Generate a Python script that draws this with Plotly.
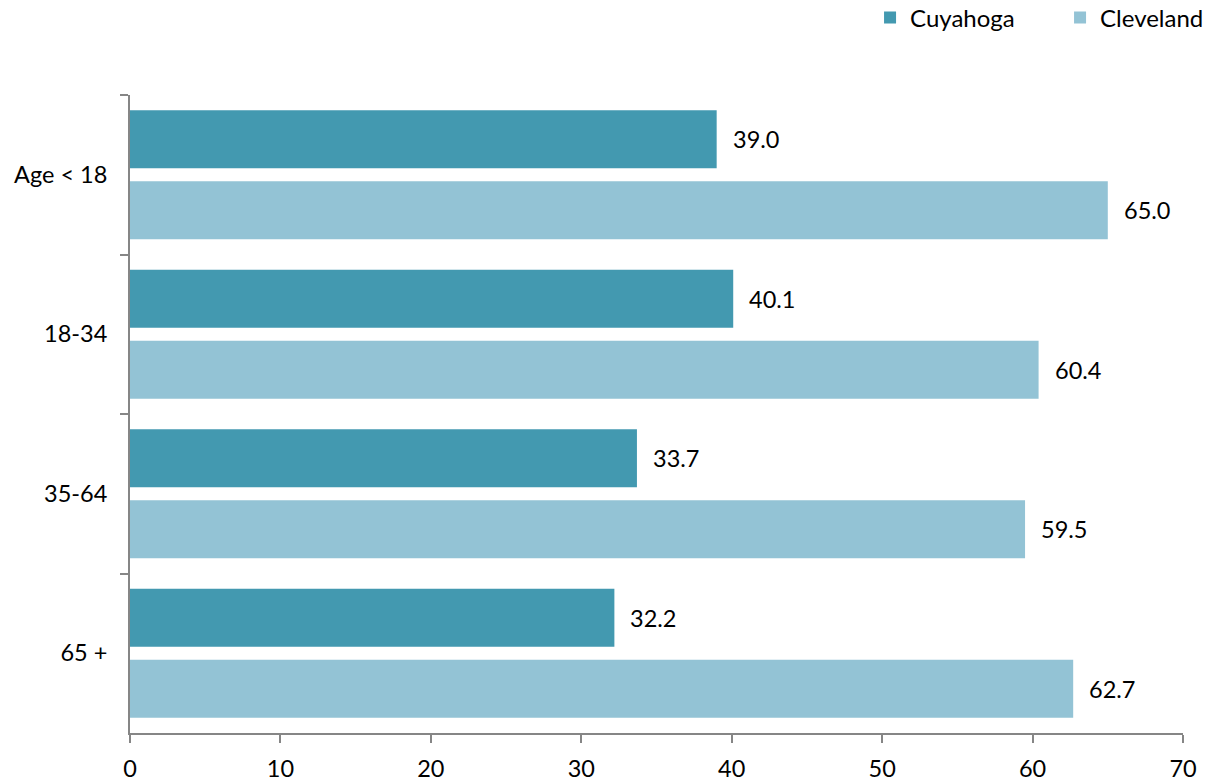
import plotly.graph_objects as go

# Age groups and the two geographies being compared
age_groups = ["Age < 18", "18-34", "35-64", "65 +"]
cuyahoga = [39.0, 40.1, 33.7, 32.2]
cleveland = [65.0, 60.4, 59.5, 62.7]
x_ticks = [0, 10, 20, 30, 40, 50, 60, 70]

COL_CUY = "#4399B0"
COL_CLE = "#93C3D5"
AXIS_COL = "#868686"
FONT = "Lato, 'Open Sans', sans-serif"
FS = 23.5

BARGAP = 0.11
GROUPGAP = 0.18

fig = go.Figure()
fig.add_trace(go.Bar(name="Cuyahoga", y=age_groups, x=cuyahoga, orientation="h",
                     marker=dict(color=COL_CUY, line=dict(width=0))))
fig.add_trace(go.Bar(name="Cleveland", y=age_groups, x=cleveland, orientation="h",
                     marker=dict(color=COL_CLE, line=dict(width=0))))

# value labels to the right of each bar, placed at the grouped-bar offsets
slot = (1 - BARGAP) / 2
annotations = []
for series, vals in ((0, cuyahoga), (1, cleveland)):
    off = -slot / 2 if series == 0 else slot / 2
    for i, v in enumerate(vals):
        annotations.append(dict(x=v, y=i + off, xref="x", yref="y", text=f"{v:.1f}",
                                showarrow=False, xanchor="left", xshift=14,
                                font=dict(family=FONT, size=FS, color="#000000")))

fig.update_layout(
    barmode="group", bargap=BARGAP, bargroupgap=GROUPGAP,
    width=1215, height=784,
    margin=dict(l=130, r=32, t=95, b=51, autoexpand=False),
    plot_bgcolor="white", paper_bgcolor="white",
    font=dict(family=FONT, size=FS, color="#000000"),
    showlegend=True,
    legend=dict(orientation="h", x=0.7028, xanchor="left", y=1.121, yanchor="middle",
                font=dict(family=FONT, size=24), traceorder="normal",
                entrywidth=145, entrywidthmode="pixels",
                bgcolor="rgba(0,0,0,0)"),
    annotations=annotations,
)
fig.update_xaxes(range=[0, 70], tickvals=x_ticks, showgrid=False, zeroline=False,
                 showline=True, linecolor=AXIS_COL, linewidth=2,
                 ticks="outside", ticklen=8, tickwidth=2, tickcolor=AXIS_COL,
                 ticklabelstandoff=6, tickfont=dict(size=FS))
fig.update_yaxes(autorange="reversed", showgrid=False, showline=True, linecolor=AXIS_COL,
                 linewidth=2, ticks="outside", tickson="boundaries", ticklen=8,
                 tickwidth=2, tickcolor=AXIS_COL, ticklabelstandoff=16,
                 tickfont=dict(size=FS))

fig.write_html("out.html")
